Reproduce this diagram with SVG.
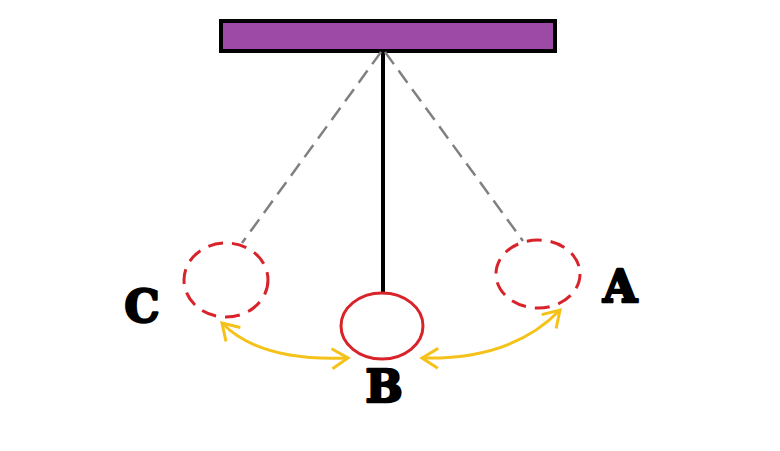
<svg xmlns="http://www.w3.org/2000/svg" width="780" height="451" viewBox="0 0 780 451">
<style>
.lbl{font-family:"DejaVu Serif","Liberation Serif",serif;font-weight:bold;font-size:44px;fill:#000;stroke:#000;stroke-width:2.5;stroke-linejoin:round;text-anchor:middle}
.ghost{fill:none;stroke:#d8232a;stroke-width:3;stroke-dasharray:15 9}
.swing{fill:none;stroke:#808080;stroke-width:2.5;stroke-dasharray:15 8}
.arc{fill:none;stroke:#f5c21a;stroke-width:3;marker-start:url(#chev);marker-end:url(#chev)}
</style>
<defs>
<marker id="chev" markerUnits="userSpaceOnUse" markerWidth="30" markerHeight="30" viewBox="-20 -15 25 30" refX="0" refY="0" orient="auto-start-reverse">
<path d="M -16,-10 L 0,0 L -16,10" fill="none" stroke="#f5c21a" stroke-width="3"/>
</marker>
</defs>
<g id="support">
<rect x="221" y="21" width="334" height="30" fill="#9c4aa6" stroke="#000" stroke-width="4"/>
</g>
<g id="connectors">
<line x1="383" y1="52" x2="383" y2="294" stroke="#000" stroke-width="4"/>
<line class="swing" x1="381" y1="52" x2="242" y2="243"/>
<line class="swing" x1="385" y1="52" x2="523" y2="241"/>
<path class="arc" d="M 222,323 Q 260,362 348,358"/>
<path class="arc" d="M 422,358 Q 512,360 560,310"/>
</g>
<g id="bob-C">
<ellipse class="ghost" cx="226" cy="280" rx="42" ry="37"/>
</g>
<g id="bob-A">
<ellipse class="ghost" cx="538" cy="274" rx="42" ry="34"/>
</g>
<g id="bob-B">
<ellipse cx="382" cy="326" rx="41" ry="33" fill="none" stroke="#d8232a" stroke-width="3"/>
</g>
<g id="label-C"><text class="lbl" x="142" y="322">C</text></g>
<g id="label-A"><text class="lbl" x="620" y="302">A</text></g>
<g id="label-B"><text class="lbl" x="384" y="402">B</text></g>
</svg>
